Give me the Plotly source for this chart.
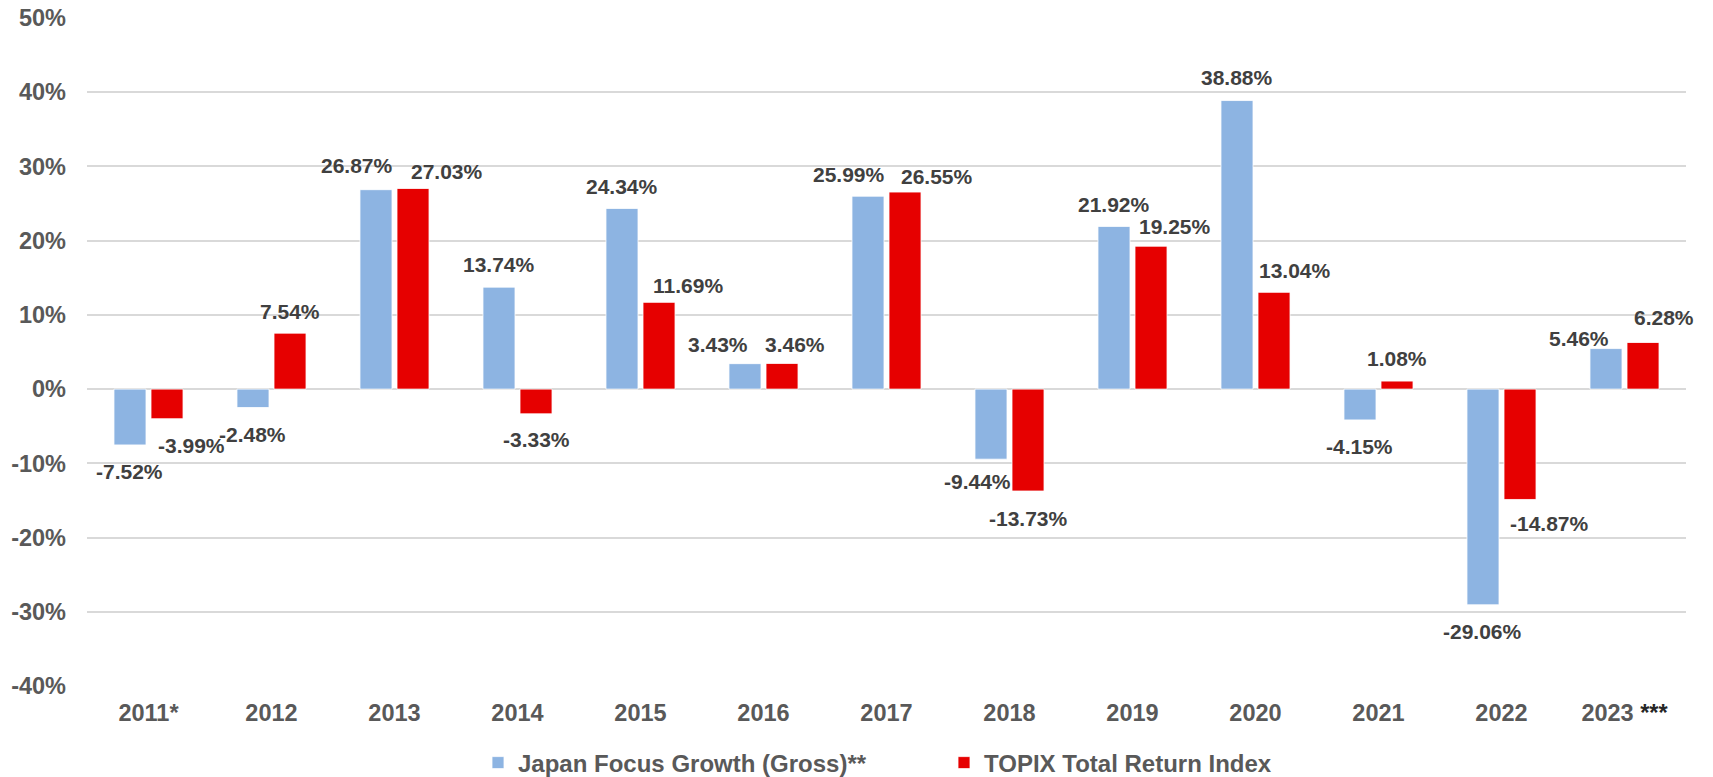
import plotly.graph_objects as go

categories = ["2011*", "2012", "2013", "2014", "2015", "2016", "2017",
              "2018", "2019", "2020", "2021", "2022", "2023 ***"]
tick_text = ["2011*", "2012", "2013", "2014", "2015", "2016", "2017",
             "2018", "2019", "2020", "2021", "2022",
             "2023 <span style='color:#262626'>***</span>"]
japan_focus = [-7.52, -2.48, 26.87, 13.74, 24.34, 3.43, 25.99,
               -9.44, 21.92, 38.88, -4.15, -29.06, 5.46]
topix = [-3.99, 7.54, 27.03, -3.33, 11.69, 3.46, 26.55,
         -13.73, 19.25, 13.04, 1.08, -14.87, 6.28]
series_names = ["Japan Focus Growth (Gross)**", "TOPIX Total Return Index"]
y_ticks = [-40, -30, -20, -10, 0, 10, 20, 30, 40, 50]
y_tick_text = [f"{v}%" for v in y_ticks]

# label nudges (px): horizontal offset from bar centre, distance from bar end
blue_dx = [0, 0, -19, 0, 0, -27, -19, -13, 0, 0, 0, 0, -27]
blue_dy = [27, 27, 24, 23, 22, 19, 22, 22, 22, 23, 27, 27, 10]
red_dx = [24, 0, 34, 0, 29, 13, 32, 0, 24, 21, 0, 29, 21]
red_dy = [27, 22, 17, 26, 17, 19, 16, 27, 20, 22, 23, 24, 25]

W, H = 1713, 777
ML, MR, MT, MB = 87, 27, 18, 91
BARGAP, GROUPGAP = 0.398, 0.135
BLUE, RED = "#8DB4E2", "#E60000"
FONT = "Liberation Sans, Arial, sans-serif"

idx = list(range(len(categories)))

fig = go.Figure()
fig.add_trace(go.Bar(x=idx, y=japan_focus, name=series_names[0],
                     marker=dict(color=BLUE, line=dict(color="white", width=0.8))))
fig.add_trace(go.Bar(x=idx, y=topix, name=series_names[1],
                     marker=dict(color=RED, line=dict(color="white", width=0.8))))

plot_w = W - ML - MR
plot_h = H - MT - MB
cat_px = plot_w / len(categories)
slot = cat_px * (1 - BARGAP) / 2
annotations = []
for vals, dxs, dys, side in [(japan_focus, blue_dx, blue_dy, -1), (topix, red_dx, red_dy, 1)]:
    for i, v, dx, dy in zip(idx, vals, dxs, dys):
        annotations.append(dict(
            x=i, y=v, xref="x", yref="y", text=f"{v:.2f}%", showarrow=False,
            xanchor="center", yanchor="middle",
            xshift=side * slot / 2 + dx, yshift=dy if v >= 0 else -dy,
            font=dict(family=FONT, size=21, color="#404040", weight="bold")))

fig.update_layout(
    width=W, height=H, margin=dict(l=ML, r=MR, t=MT, b=MB, autoexpand=False),
    paper_bgcolor="white", plot_bgcolor="white",
    barmode="group", bargap=BARGAP, bargroupgap=GROUPGAP,
    font=dict(family=FONT, color="#595959"),
    annotations=annotations,
    legend=dict(orientation="h", x=(478 - ML) / plot_w, xanchor="left",
                y=-77 / plot_h, yanchor="middle", entrywidth=421,
                font=dict(family=FONT, size=24, color="#595959", weight="bold"),
                itemwidth=30, tracegroupgap=0),
    xaxis=dict(range=[-0.5, len(categories) - 0.5], tickmode="array",
               tickvals=idx, ticktext=tick_text, automargin=False,
               tickfont=dict(family=FONT, size=23.5, color="#595959", weight="bold"),
               showgrid=False, showline=False, zeroline=False, ticks="",
               ticklabelstandoff=10),
    yaxis=dict(range=[-40, 50], tickmode="array", tickvals=y_ticks, ticktext=y_tick_text,
               automargin=False,
               tickfont=dict(family=FONT, size=23.5, color="#595959", weight="bold"),
               showgrid=True, gridcolor="#D9D9D9", gridwidth=2,
               zeroline=True, zerolinecolor="#D9D9D9", zerolinewidth=2,
               showline=False, ticks="", ticklabelstandoff=20),
)

fig.write_html("out.html", config={"displayModeBar": False},
               post_script="document.body.style.margin='0';document.body.style.overflow='hidden';")
